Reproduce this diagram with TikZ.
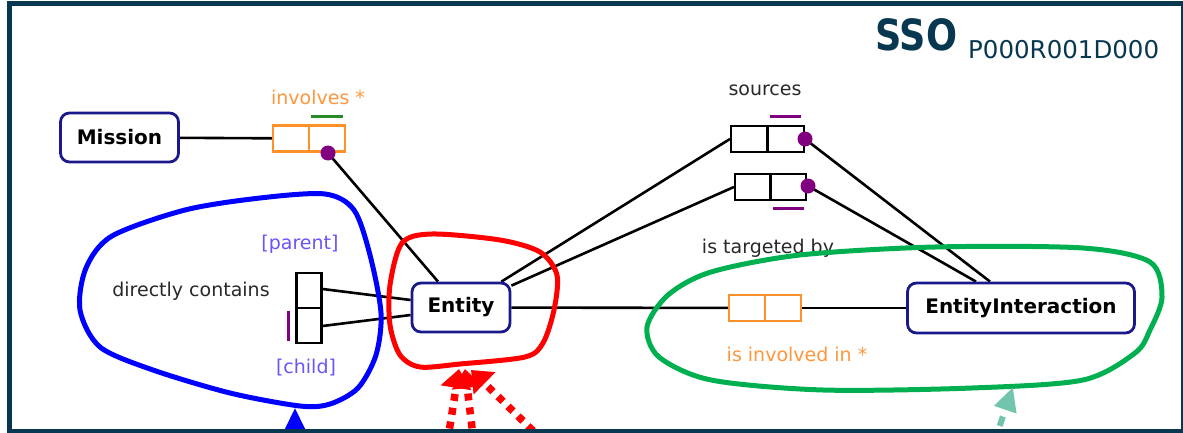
\documentclass[tikz,border=0pt]{standalone}
\usepackage{fontspec}
\setmainfont{DejaVu Sans}
\usetikzlibrary{arrows.meta}

\definecolor{framecol}{RGB}{8,56,80}
\definecolor{navy}{RGB}{25,25,140}
\definecolor{relorange}{RGB}{255,145,40}
\definecolor{lblorange}{RGB}{255,150,60}
\definecolor{rolecol}{RGB}{105,85,250}
\definecolor{marker}{RGB}{128,0,128}
\definecolor{bargreen}{RGB}{40,140,40}
\definecolor{loopgreen}{RGB}{0,176,80}
\definecolor{mint}{RGB}{115,196,172}
\definecolor{txtdark}{RGB}{40,40,40}

\pgfdeclarelayer{bg}
\pgfsetlayers{bg,main}

\begin{document}
\begin{tikzpicture}[x=1pt,y=-1pt,
  cls/.style={draw=navy,line width=2.8pt,rounded corners=9pt,fill=white,
    inner sep=0pt,font=\fontsize{20}{22}\selectfont\bfseries,text=black},
  relbox/.style={draw,line width=2.2pt,fill=white,inner sep=0pt},
  lbl/.style={inner sep=0pt,font=\fontsize{19}{21}\selectfont,text=txtdark},
  conn/.style={line width=2.6pt,black},
  dot/.style={circle,fill=marker,inner sep=0pt,minimum size=15pt},
  bar/.style={line width=3pt},
  hull/.style={line width=5pt},
]
\useasboundingbox (0,0) rectangle (1183,433);
\clip (0,0) rectangle (1183,433);

% title
\node[anchor=base west,inner sep=0pt,text=framecol,
      font=\fontsize{43}{44}\selectfont\bfseries] (title) at (875,51) {\scalebox{0.85}[1]{SSO}};
\node[anchor=base west,inner sep=0pt,text=framecol,
      font=\fontsize{24.5}{26}\selectfont] (code) at (968,59) {P000R001D000};

% classes
\node[cls,minimum width=118pt,minimum height=49pt] (mission) at (119.5,137.5) {Mission};
\node[cls,minimum width=98pt,minimum height=49pt] (entity) at (461,307.5) {Entity};
\node[cls,minimum width=227pt,minimum height=50pt] (ei) at (1021,308) {EntityInteraction};

% relation boxes
\node[relbox,draw=relorange,minimum width=72pt,minimum height=26pt] (invbox) at (309,138.5) {};
\draw[line width=2.2pt,relorange] (invbox.north) -- (invbox.south);
\node[relbox,minimum width=73pt,minimum height=26pt] (src1) at (767.5,139) {};
\draw[line width=2.2pt] (src1.north) -- (src1.south);
\node[relbox,minimum width=71pt,minimum height=26pt] (src2) at (770.5,187) {};
\draw[line width=2.2pt] (src2.north) -- (src2.south);
\node[relbox,draw=relorange,minimum width=72pt,minimum height=26pt] (invin) at (765,308) {};
\draw[line width=2.2pt,relorange] (invin.north) -- (invin.south);
\node[relbox,minimum width=25pt,minimum height=70pt] (contains) at (309,308) {};
\draw[line width=2.2pt] (contains.west) -- (contains.east);

% cardinality bars
\draw[bar,bargreen] (311,117) -- (343,117);
\draw[bar,marker] (770,117) -- (801,117);
\draw[bar,marker] (773,208) -- (804,208);
\draw[bar,marker] (288,311) -- (288,341);

% end markers
\node[dot] (invdot) at (328,153) {};
\node[dot] (srcdot1) at (805,139) {};
\node[dot] (srcdot2) at (808,186) {};

% labels
\node[lbl,text=lblorange] (lblinv) at (318,97) {involves *};
\node[lbl] (lblsrc) at (765,90) {sources};
\node[lbl] (lbltgt) at (768,248) {is targeted by};
\node[lbl,text=lblorange] (lblinvin) at (797,354) {is involved in *};
\node[lbl] (lbldc) at (191,291) {directly contains};
\node[lbl,text=rolecol] (lblpar) at (300,244) {[parent]};
\node[lbl,text=rolecol] (lblchild) at (306,368) {[child]};

% connectors
\begin{pgfonlayer}{bg}
\draw[conn] (mission) -- (invbox);
\draw[conn] (invdot.center) -- ([xshift=-23pt]entity.north);
\draw[conn] (src1.west) -- ([xshift=-10pt]entity.north east);
\draw[conn] (src2.west) -- ([yshift=-4pt]entity.north east);
\draw[conn] (srcdot1.center) -- ([xshift=-31pt]ei.north);
\draw[conn] (srcdot2.center) -- ([xshift=-45pt]ei.north);
\draw[conn] (entity) -- (invin);
\draw[conn] (invin) -- (ei);
\draw[conn] ([yshift=19pt]contains.east) -- ([yshift=7.5pt]entity.west);
\draw[conn] ([yshift=-18pt]contains.east) -- ([yshift=-7.5pt]entity.west);
\end{pgfonlayer}

% highlight hulls
\draw[hull,blue] plot[smooth cycle] coordinates {
  (325,194) (354,210) (370,255) (381,313) (376,355) (358,388) (330,404)
  (300,406) (230,393) (153,370) (100,347) (80,310) (86,268) (112,236)
  (185,210) (260,198)};
\draw[hull,red] plot[smooth cycle] coordinates {
  (432,234) (500,240) (540,252) (557,275) (554,310) (543,343) (525,357)
  (460,364) (420,367) (400,355) (390,325) (390,285) (402,243)};
\draw[hull,loopgreen] plot[smooth cycle] coordinates {
  (647,327) (668,295) (711,272) (800,255) (935,247) (1083,248) (1150,262)
  (1162,297) (1150,330) (1135,353) (1083,380) (972,388) (823,390)
  (711,380) (659,357)};

% incoming pointers
\coordinate (blueTail) at (295,480);
\coordinate (blueHead) at (295,408);
\draw[blue,line width=4pt,-{Triangle[length=24pt,width=22pt]}] (blueTail) -- (blueHead);

\coordinate (redTailA) at (443,470);
\coordinate (redHeadA) at (459,369);
\coordinate (redTailB) at (477,470);
\coordinate (redHeadB) at (465,369);
\coordinate (redTailC) at (573,470);
\coordinate (redHeadC) at (471,370);
\begin{scope}[red,line width=7.5pt,dash pattern=on 7pt off 7pt,
    -{Triangle[length=19pt,width=30pt]}]
\draw (redTailA) -- (redHeadA);
\draw (redTailB) -- (redHeadB);
\draw (redTailC) -- (redHeadC);
\end{scope}

\coordinate (mintTail) at (988,460);
\coordinate (mintHead) at (1013,387);
\draw[mint,line width=6pt,dash pattern=on 10pt off 8pt,
  -{Triangle[length=24pt,width=22pt]}] (mintTail) -- (mintHead);

% frame, drawn last so it covers the pointer tails
\node[draw=framecol,line width=5pt,inner sep=0pt,minimum width=1174pt,minimum height=427.5pt]
  (frame) at (596.5,217.25) {};
\end{tikzpicture}
\end{document}
